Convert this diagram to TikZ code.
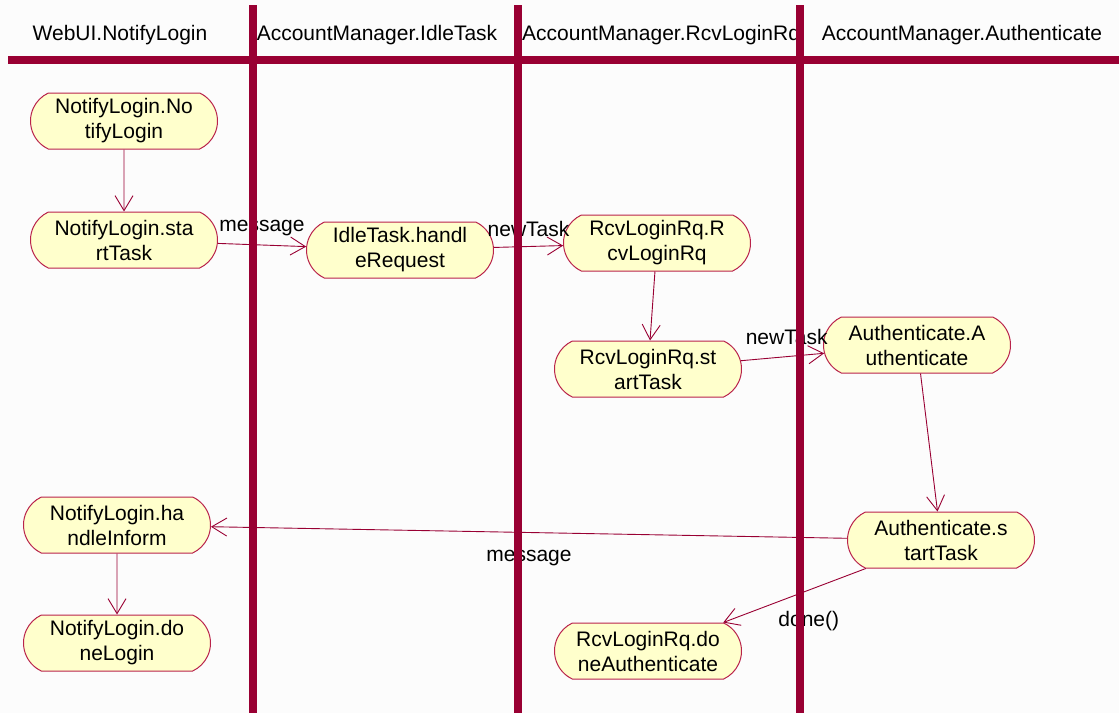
\documentclass[tikz,border=0pt]{standalone}
\usepackage{fontspec}
\setmainfont{Liberation Sans}
\usetikzlibrary{arrows.meta,positioning,shapes.misc}
\definecolor{lanered}{RGB}{153,0,51}
\definecolor{actfill}{RGB}{255,255,204}
\definecolor{actline}{RGB}{185,35,75}
\tikzset{
  activity/.style={rounded rectangle, rounded rectangle arc length=130,
    draw=actline, fill=actfill, line width=1pt,
    minimum width=187pt, minimum height=56pt, inner sep=0pt, align=center,
    font=\fontsize{21}{25}\selectfont},
  flow/.style={draw=lanered, line width=0.9pt, -{Straight Barb[length=15pt,width=18pt]}},
  lane/.style={draw=lanered, line width=8pt},
  lbl/.style={font=\fontsize{21}{25}\selectfont, inner sep=1pt},
}

\begin{document}
\begin{tikzpicture}[x=1pt,y=-1pt,node distance=118pt,on grid]
  \fill[black!1] (0,0) rectangle (1119,713);
  \useasboundingbox (0,0) rectangle (1119,713);
  % swimlane titles
  \node[lbl,anchor=base] (tWeb) at (120,40) {WebUI.NotifyLogin};
  \node[lbl,anchor=base] (tIdle) at (377,40) {AccountManager.IdleTask};
  \begin{scope}
    \clip (522,0) rectangle (796,60);
    \node[lbl,anchor=base west] (tRcv) at (521,40) {AccountManager.RcvLoginRq};
  \end{scope}
  \node[lbl,anchor=base] (tAuth) at (962,40) {AccountManager.Authenticate};
  % activities
  \node[activity] (nlNotify) at (124,121) {NotifyLogin.No\\tifyLogin};
  \node[activity] (nlStart) [below = 119pt of nlNotify] {NotifyLogin.sta\\rtTask};
  \node[activity] (itHandle) [below right = 10pt and 276pt of nlStart] {IdleTask.handl\\eRequest};
  \node[activity] (rqRcv) [above right = 7pt and 257pt of itHandle] {RcvLoginRq.R\\cvLoginRq};
  \node[activity] (rqStart) [below left = 126pt and 9pt of rqRcv] {RcvLoginRq.st\\artTask};
  \node[activity] (auAuth) [above right = 24pt and 269pt of rqStart] {Authenticate.A\\uthenticate};
  \node[activity] (auStart) [below right = 195pt and 24pt of auAuth] {Authenticate.s\\tartTask};
  \node[activity] (nlInform) [above left = 15pt and 824pt of auStart] {NotifyLogin.ha\\ndleInform};
  \node[activity] (nlDone) [below = 118pt of nlInform] {NotifyLogin.do\\neLogin};
  \node[activity] (rqDone) [below = 282pt of rqStart] {RcvLoginRq.do\\neAuthenticate};
  % transitions
  \path[flow]
  (nlNotify) edge (nlStart)
  (nlStart) edge node [lbl,above=8pt] {message} (itHandle)
  (itHandle) edge node [lbl,above=8pt] {newTask} (rqRcv)
  (rqRcv) edge (rqStart)
  (rqStart) edge node [lbl,above=10pt,pos=0.55] {newTask} (auAuth)
  (auAuth) edge (auStart)
  (auStart) edge node [lbl,below=16pt] {message} (nlInform)
            edge node [lbl,pos=0.4,below=20pt] {done()} (rqDone)
  (nlInform) edge (nlDone)
  ;
  % swimlanes
  \draw[lane] (8,60) -- (1119,60);
  \foreach \x in {253,518,800}
    \draw[lane] (\x,5) -- (\x,713);
\end{tikzpicture}
\end{document}
